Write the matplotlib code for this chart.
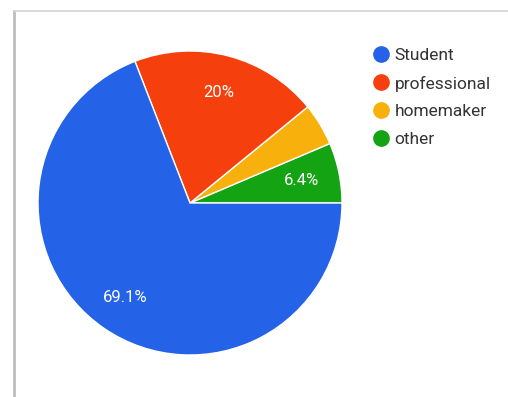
import matplotlib
matplotlib.use("Agg")
import matplotlib.pyplot as plt
from matplotlib.lines import Line2D

# Occupation breakdown (percent of respondents)
categories = ["Student", "professional", "homemaker", "other"]
shares = [69.1, 20.0, 4.5, 6.4]
colors = ["#2462E8", "#F5400E", "#F8B10C", "#13A313"]

W, H = 508, 397
fig = plt.figure(figsize=(W / 100, H / 100), dpi=100)
fig.patch.set_facecolor("white")

# Frame lines of the card (left and top edges)
fig.add_artist(Line2D([14 / W, 14 / W], [0, 1 - 11 / H], color="#bdbdbd", lw=2.0,
                      transform=fig.transFigure))
fig.add_artist(Line2D([14 / W, 1], [1 - 11 / H, 1 - 11 / H], color="#d4d4d4", lw=1.2,
                      transform=fig.transFigure))

# Pie axes: centre (190, 203) px, radius 152 px
cx, cy, r = 190, 203, 152
ax = fig.add_axes([(cx - r) / W, (H - cy - r) / H, 2 * r / W, 2 * r / H])

# Draw counter-clockwise from 3 o'clock: other, homemaker, professional, Student
order = [3, 2, 1, 0]
vals = [shares[i] for i in order]
cols = [colors[i] for i in order]


def fmt(p):
    return "" if p < 5 else f"{p:.1f}%".replace(".0%", "%")


wedges, _, autotexts = ax.pie(
    vals, colors=cols, startangle=0, counterclock=True,
    autopct=fmt, pctdistance=0.75,
    wedgeprops=dict(edgecolor="white", linewidth=1.0),
    textprops=dict(color="white", fontsize=12, family=["Roboto", "DejaVu Sans"]),
)
ax.set_xlim(-1.0, 1.0)
ax.set_ylim(-1.0, 1.0)
ax.set_aspect("equal")
ax.axis("off")

# Legend
handles = [Line2D([], [], marker="o", linestyle="none", markersize=11,
                  markerfacecolor=c, markeredgecolor=c) for c in colors]
fig.legend(handles, categories, loc="upper left",
           bbox_to_anchor=(365 / W, 1 - 39 / H), frameon=False,
           prop=dict(family=["Roboto", "DejaVu Sans"], size=12.5),
           labelcolor="#333333", handlelength=0.9, handletextpad=0.3,
           labelspacing=0.73, borderpad=0)

fig.savefig("out.png", dpi=100, facecolor="white")
